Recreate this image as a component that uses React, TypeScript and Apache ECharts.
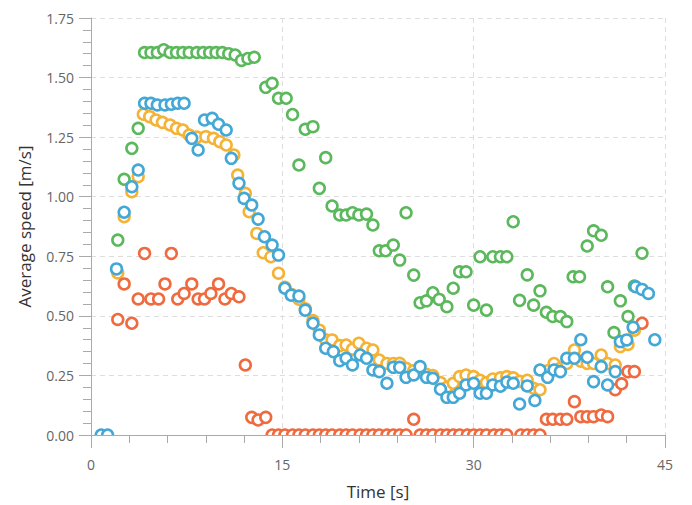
import React, { useEffect, useRef } from "react";
import * as echarts from "echarts";

// [time (s), average speed (m/s)]
const greenPoints: [number, number][] = [
  [2.1, 0.818], [2.6, 1.073], [3.2, 1.203], [3.7, 1.287], [4.2, 1.605], [4.7, 1.605],
  [5.2, 1.605], [5.7, 1.617], [6.2, 1.605], [6.7, 1.605], [7.2, 1.605], [7.7, 1.605],
  [8.3, 1.605], [8.8, 1.605], [9.3, 1.605], [9.8, 1.605], [10.3, 1.605], [10.8, 1.6],
  [11.3, 1.595], [11.8, 1.572], [12.3, 1.58], [12.8, 1.585], [13.7, 1.459], [14.2, 1.476],
  [14.7, 1.413], [15.3, 1.413], [15.8, 1.345], [16.3, 1.133], [16.8, 1.283], [17.4, 1.294],
  [17.9, 1.035], [18.4, 1.164], [18.9, 0.961], [19.5, 0.923], [20.0, 0.923], [20.5, 0.933],
  [21.0, 0.923], [21.6, 0.927], [22.1, 0.881], [22.6, 0.773], [23.1, 0.773], [23.7, 0.797],
  [24.2, 0.734], [24.7, 0.933], [25.3, 0.671], [25.8, 0.555], [26.3, 0.563], [26.8, 0.597],
  [27.3, 0.569], [27.9, 0.538], [28.4, 0.616], [28.9, 0.685], [29.4, 0.685], [30.0, 0.545],
  [30.5, 0.748], [31.0, 0.524], [31.5, 0.748], [32.1, 0.748], [32.6, 0.748], [33.1, 0.895],
  [33.6, 0.565], [34.2, 0.672], [34.7, 0.545], [35.2, 0.605], [35.7, 0.515], [36.2, 0.497],
  [36.8, 0.497], [37.3, 0.476], [37.8, 0.664], [38.3, 0.664], [38.9, 0.793], [39.4, 0.857],
  [40.0, 0.838], [40.5, 0.622], [41.0, 0.43], [41.5, 0.563], [42.1, 0.497], [42.6, 0.625],
  [43.2, 0.763],
];

const orangePoints: [number, number][] = [
  [2.1, 0.68], [2.6, 0.916], [3.2, 1.021], [3.7, 1.084], [4.1, 1.346], [4.6, 1.336],
  [5.1, 1.322], [5.6, 1.312], [6.2, 1.301], [6.7, 1.287], [7.2, 1.28], [7.7, 1.259],
  [8.3, 1.25], [9.0, 1.252], [9.6, 1.245], [10.1, 1.231], [10.6, 1.217], [11.2, 1.175],
  [11.5, 1.091], [12.1, 1.014], [12.4, 0.937], [13.0, 0.846], [13.5, 0.765], [14.1, 0.748],
  [14.7, 0.679], [15.2, 0.62], [15.7, 0.59], [16.3, 0.57], [16.8, 0.53], [17.4, 0.48],
  [17.9, 0.44], [18.4, 0.4], [18.9, 0.399], [19.5, 0.375], [20.0, 0.378], [20.5, 0.36],
  [21.0, 0.385], [21.6, 0.364], [22.1, 0.357], [22.6, 0.315], [23.2, 0.3], [23.7, 0.3],
  [24.2, 0.301], [24.7, 0.28], [25.3, 0.27], [25.8, 0.27], [26.3, 0.255], [26.8, 0.25],
  [27.4, 0.22], [27.9, 0.2], [28.4, 0.217], [28.9, 0.245], [29.4, 0.252], [30.0, 0.245],
  [30.5, 0.23], [31.0, 0.22], [31.5, 0.235], [32.1, 0.24], [32.6, 0.245], [33.1, 0.24],
  [33.6, 0.225], [34.2, 0.23], [34.7, 0.196], [35.2, 0.19], [35.8, 0.27], [36.3, 0.3],
  [36.8, 0.28], [37.3, 0.3], [37.9, 0.357], [38.4, 0.31], [38.9, 0.3], [39.4, 0.3],
  [40.0, 0.336], [40.5, 0.3], [41.1, 0.294], [41.5, 0.371], [42.1, 0.38], [42.6, 0.44],
];

const redPoints: [number, number][] = [
  [2.1, 0.485], [2.6, 0.634], [3.2, 0.469], [3.7, 0.571], [4.2, 0.762], [4.7, 0.571],
  [5.3, 0.571], [5.8, 0.634], [6.3, 0.762], [6.8, 0.571], [7.3, 0.594], [7.9, 0.634],
  [8.4, 0.571], [8.9, 0.571], [9.4, 0.594], [10.0, 0.634], [10.5, 0.571], [11.0, 0.594],
  [11.6, 0.58], [12.1, 0.294], [12.6, 0.074], [13.1, 0.063], [13.7, 0.074], [14.2, 0],
  [14.7, 0], [15.2, 0], [15.8, 0], [16.3, 0], [16.8, 0], [17.4, 0], [17.9, 0], [18.4, 0],
  [18.9, 0], [19.5, 0], [20.0, 0], [20.5, 0], [21.1, 0], [21.6, 0], [22.1, 0], [22.6, 0],
  [23.2, 0], [23.7, 0], [24.2, 0], [24.7, 0], [25.3, 0.066], [25.8, 0], [26.3, 0],
  [26.8, 0], [27.4, 0], [27.9, 0], [28.4, 0], [28.9, 0], [29.5, 0], [30.0, 0], [30.5, 0],
  [31.0, 0], [31.6, 0], [32.1, 0], [32.6, 0], [33.7, 0], [34.2, 0], [34.7, 0], [35.2, 0],
  [35.7, 0.066], [36.2, 0.066], [36.8, 0.066], [37.3, 0.066], [37.9, 0.14], [38.4, 0.077],
  [38.9, 0.077], [39.4, 0.077], [40.0, 0.084], [40.5, 0.077], [41.1, 0.19], [41.6, 0.215],
  [42.1, 0.266], [42.6, 0.266], [43.2, 0.469],
];

const bluePoints: [number, number][] = [
  [0.8, 0], [1.3, 0], [2.0, 0.697], [2.6, 0.935], [3.2, 1.042], [3.7, 1.112], [4.2, 1.392],
  [4.7, 1.392], [5.2, 1.385], [5.8, 1.385], [6.3, 1.388], [6.8, 1.392], [7.3, 1.392],
  [7.9, 1.245], [8.4, 1.196], [8.9, 1.322], [9.5, 1.329], [10.0, 1.304], [10.6, 1.28],
  [11.0, 1.161], [11.6, 1.056], [12.0, 0.993], [12.6, 0.965], [13.1, 0.906], [13.6, 0.832],
  [14.2, 0.797], [14.7, 0.755], [15.2, 0.616], [15.7, 0.587], [16.3, 0.583], [16.8, 0.524],
  [17.4, 0.469], [17.9, 0.42], [18.4, 0.364], [19.0, 0.35], [19.5, 0.312], [20.0, 0.322],
  [20.5, 0.294], [21.1, 0.336], [21.6, 0.322], [22.1, 0.273], [22.6, 0.266], [23.2, 0.217],
  [23.7, 0.284], [24.2, 0.284], [24.7, 0.242], [25.3, 0.252], [25.8, 0.287], [26.3, 0.242],
  [26.8, 0.238], [27.4, 0.192], [27.9, 0.158], [28.4, 0.158], [28.9, 0.175], [29.4, 0.21],
  [30.0, 0.217], [30.5, 0.175], [31.0, 0.175], [31.5, 0.21], [32.1, 0.205], [32.6, 0.222],
  [33.1, 0.217], [33.6, 0.13], [34.2, 0.206], [34.8, 0.145], [35.2, 0.273], [35.8, 0.242],
  [36.3, 0.273], [36.8, 0.266], [37.3, 0.322], [37.9, 0.322], [38.4, 0.4], [38.9, 0.326],
  [39.4, 0.224], [40.0, 0.287], [40.5, 0.21], [41.1, 0.266], [41.5, 0.392], [42.0, 0.399],
  [42.5, 0.452], [42.7, 0.622], [43.2, 0.611], [43.7, 0.594], [44.2, 0.4],
];

const seriesNames = ["Green", "Orange", "Red", "Blue"];
const seriesColors = ["#5cb85c", "#f5b335", "#ef6b3f", "#43a8d6"];
const seriesData = [greenPoints, orangePoints, redPoints, bluePoints];

export default function App() {
  const ref = useRef<HTMLDivElement>(null);
  useEffect(() => {
    if (!ref.current) return;
    const chart = echarts.init(ref.current, null, { renderer: "svg" });
    const font = "'Open Sans', 'Noto Sans', sans-serif";
    const series = seriesData.map((data, i) => {
      const color = seriesColors[i];
      return {
        type: "custom",
        name: seriesNames[i],
        data,
        clip: true,
        encode: { x: 0, y: 1 },
        renderItem: (_params: any, api: any) => {
          const p = api.coord([api.value(0), api.value(1)]);
          return {
            type: "circle",
            shape: { cx: p[0], cy: p[1], r: 5.4 },
            style: { fill: "#ffffff", stroke: color, lineWidth: 2.6 },
          };
        },
      };
    });
    chart.setOption({
      animation: false,
      backgroundColor: "#ffffff",
      textStyle: { fontFamily: font },
      grid: { left: 91, right: 27, top: 18, bottom: 70, containLabel: false },
      xAxis: {
        type: "value",
        min: 0,
        max: 45,
        interval: 15,
        name: "Time [s]",
        nameLocation: "middle",
        nameGap: 48,
        nameTextStyle: { fontSize: 17, color: "#333", fontFamily: font },
        axisLine: { show: true, lineStyle: { color: "#aaaaaa", width: 1 } },
        axisTick: { show: true, length: 13, lineStyle: { color: "#aaaaaa" } },
        minorTick: { show: true, splitNumber: 5, length: 8, lineStyle: { color: "#aaaaaa" } },
        axisLabel: { fontSize: 14, color: "#666", margin: 22, fontFamily: font },
        splitLine: { show: true, lineStyle: { color: "#dddddd", type: [5, 4], width: 1 } },
      },
      yAxis: {
        type: "value",
        min: 0,
        max: 1.75,
        interval: 0.25,
        name: "Average speed [m/s]",
        nameLocation: "middle",
        nameGap: 58,
        nameTextStyle: { fontSize: 17, color: "#333", fontFamily: font },
        axisLine: { show: true, lineStyle: { color: "#aaaaaa", width: 1 } },
        axisTick: { show: true, length: 12, lineStyle: { color: "#aaaaaa" } },
        minorTick: { show: true, splitNumber: 5, length: 8, lineStyle: { color: "#aaaaaa" } },
        axisLabel: {
          fontSize: 14,
          color: "#666",
          margin: 17,
          fontFamily: font,
          formatter: (v: number) => v.toFixed(2),
        },
        splitLine: { show: true, lineStyle: { color: "#dddddd", type: [5, 4], width: 1 } },
      },
      series,
    });
    return () => chart.dispose();
  }, []);
  return (
    <div
      ref={ref}
      style={{ position: "fixed", left: 0, top: 0, width: 692, height: 505, background: "#fff" }}
    />
  );
}
